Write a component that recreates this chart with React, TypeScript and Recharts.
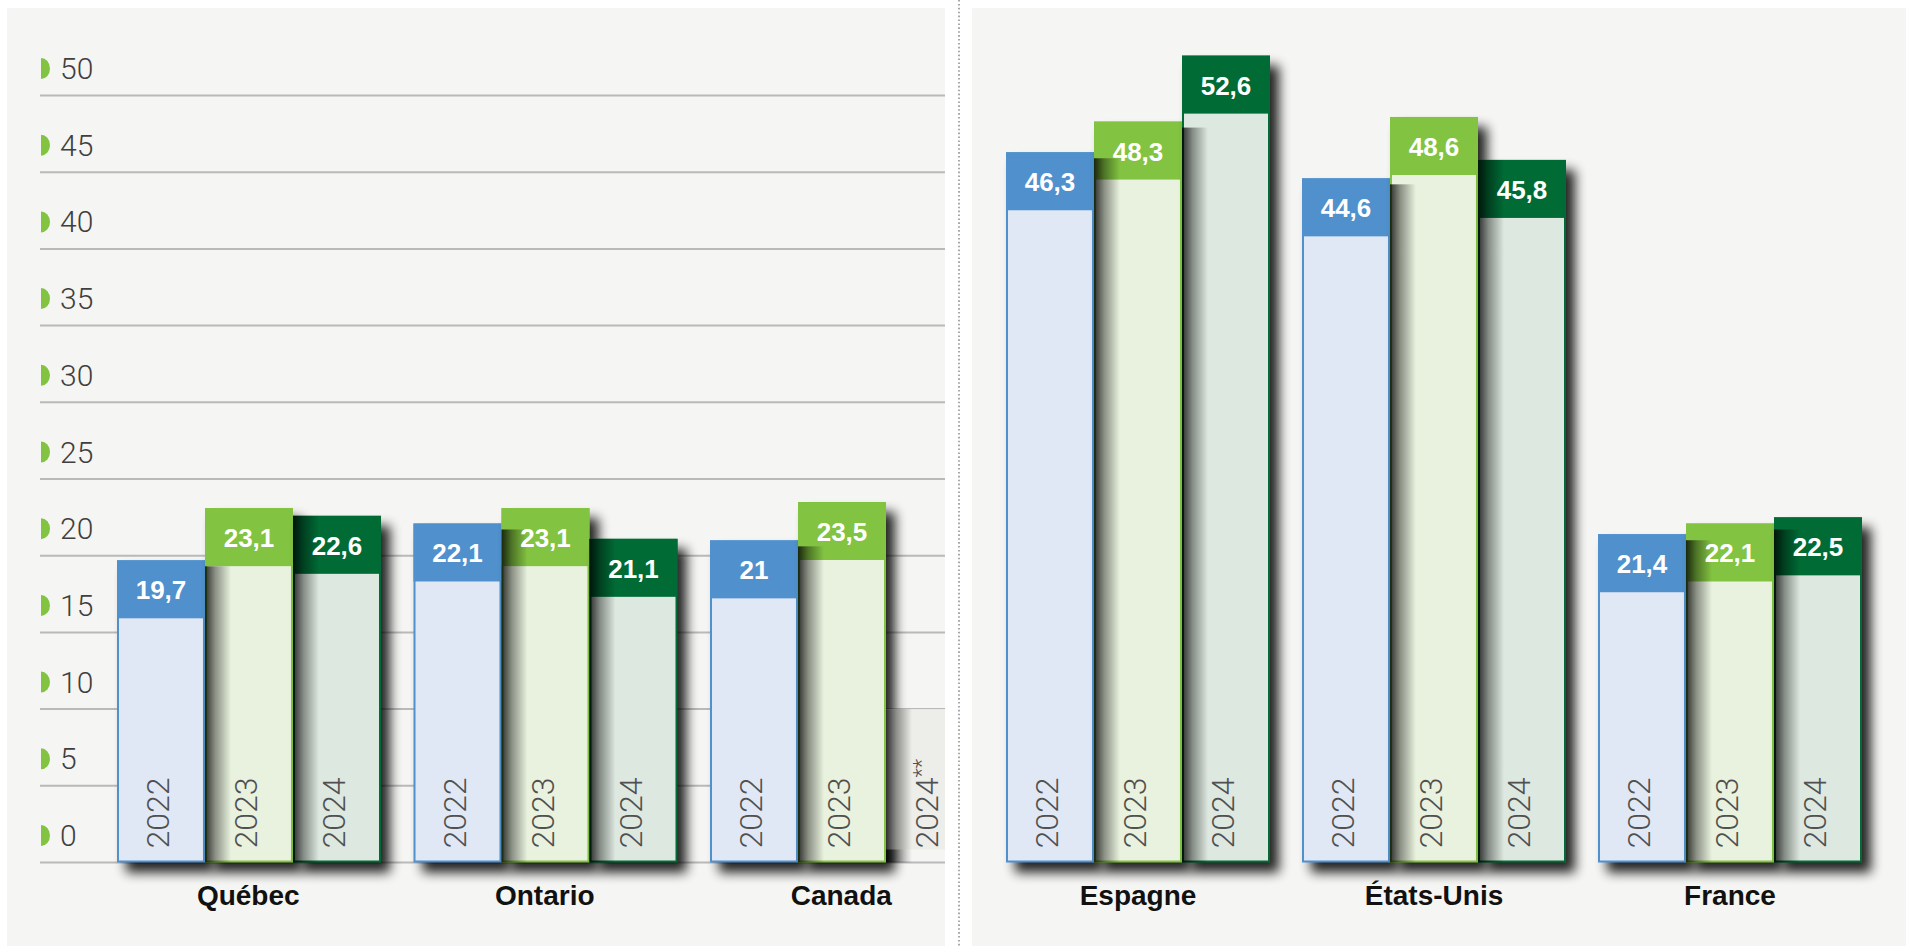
import React from 'react';
import { BarChart, Bar, XAxis, YAxis, CartesianGrid } from 'recharts';

// Catégories et valeurs
const CANADA_REGIONS = ['Québec', 'Ontario', 'Canada'];
const INTL_REGIONS = ['Espagne', 'États-Unis', 'France'];

const CANADA_2022 = [19.7, 22.1, 21];
const CANADA_2023 = [23.1, 23.1, 23.5];
const CANADA_2024 = [22.6, 21.1, null];
// 2024** : pas encore de donnée, une case grise tient la place
const CANADA_PENDING = [null, null, 10];

const INTL_2022 = [46.3, 44.6, 21.4];
const INTL_2023 = [48.3, 48.6, 22.1];
const INTL_2024 = [52.6, 45.8, 22.5];

const YEARS = ['2022', '2023', '2024'];
const Y_TICKS = [0, 5, 10, 15, 20, 25, 30, 35, 40, 45, 50];

const CAP = ['#4F90CD', '#82C341', '#006B35'];
const BODY = ['#E1E8F5', '#E9F2DE', '#DDE8E0'];
const PANEL_BG = '#F5F5F3';
const GRID = '#B9B9B9';

const buildRows = (names, a, b, c, pending?) =>
  names.map((name, i) => ({
    name,
    y2022: a[i],
    y2023: b[i],
    y2024: c[i],
    pending: pending ? pending[i] : null,
  }));

const canadaRows = buildRows(CANADA_REGIONS, CANADA_2022, CANADA_2023, CANADA_2024, CANADA_PENDING);
const intlRows = buildRows(INTL_REGIONS, INTL_2022, INTL_2023, INTL_2024);

const seriesValue = (row, s) => {
  if (s === 0) return row.y2022;
  if (s === 1) return row.y2023;
  return row.y2024 ?? row.pending;
};

const CAP_H = 58;

const makeShape = (s: number) => (props: any) => {
  const { x, y, width: w, height: h, payload } = props;
  const value = seriesValue(payload, s);
  if (value == null || !h) return <g />;
  const isPending = s === 2 && payload.y2024 == null;
  const base = y + h;
  const ppu = h / value;
  const cx = x + w / 2;

  // ombre portée par la barre précédente du groupe
  let shadeTop = null;
  if (s > 0) {
    const pv = seriesValue(payload, s - 1);
    if (pv != null) shadeTop = Math.max(y, base - pv * ppu + 6);
  }
  const shade =
    shadeTop != null ? (
      <rect x={x} y={shadeTop} width={26} height={base - shadeTop} fill="url(#leftShade)" />
    ) : null;

  const yearLabel = (
    <text
      transform={`translate(${cx + 8}, ${base - 14}) rotate(-90)`}
      fontFamily="Roboto, 'Liberation Sans', sans-serif"
      fontWeight={300}
      fontSize={32}
      fill="#505050"
    >
      {YEARS[s]}
      {isPending && (
        <tspan fontSize={22} dy={-9}>
          **
        </tspan>
      )}
    </text>
  );

  if (isPending) {
    return (
      <g>
        <rect x={x} y={y} width={w} height={h - 13} fill="#EDEDE9" />
        {shade}
        {yearLabel}
      </g>
    );
  }

  return (
    <g>
      <rect x={x + 9} y={y + 10} width={w} height={h} fill="#000" opacity={0.85} filter="url(#barShadow)" />
      <rect x={x + 1} y={y + 1} width={w - 2} height={h - 2} fill={BODY[s]} stroke={CAP[s]} strokeWidth={2} />
      <rect x={x} y={y} width={w} height={CAP_H} fill={CAP[s]} />
      {shade}
      <text
        x={cx}
        y={y + CAP_H / 2 + 1}
        textAnchor="middle"
        dominantBaseline="central"
        fontFamily="'Liberation Sans', Arial, sans-serif"
        fontWeight={700}
        fontSize={26}
        fill="#fff"
      >
        {String(value).replace('.', ',')}
      </text>
      {yearLabel}
    </g>
  );
};

const YTick = (props: any) => {
  const { y, payload } = props;
  const ty = y - 27;
  return (
    <g>
      <path d={`M 34 ${ty - 10.5} A 9 10.5 0 0 1 34 ${ty + 10.5} Z`} fill="#82C341" />
      <text
        x={53}
        y={ty}
        dominantBaseline="central"
        fontFamily="Roboto, 'Liberation Sans', sans-serif"
        fontWeight={300}
        fontSize={30}
        fill="#3F3F3F"
      >
        {payload.value}
      </text>
    </g>
  );
};

const XTick = (props: any) => {
  const { x, y, payload } = props;
  return (
    <text
      x={x}
      y={y + 33}
      textAnchor="middle"
      dominantBaseline="central"
      fontFamily="'Liberation Sans', Arial, sans-serif"
      fontWeight={700}
      fontSize={28}
      fill="#111"
    >
      {payload.value}
    </text>
  );
};

const renderBars = () =>
  YEARS.map((yr, s) => (
    <Bar
      key={yr}
      dataKey={(row) => seriesValue(row, s)}
      name={yr}
      shape={makeShape(s)}
      isAnimationActive={false}
    />
  ));

const PANEL_H = 938;

export default function App() {
  return (
    <div
      style={{
        position: 'absolute',
        left: 0,
        top: 0,
        width: 1906,
        height: 947,
        background: '#fff',
        overflow: 'hidden',
      }}
    >
      <svg width={0} height={0} style={{ position: 'absolute' }}>
        <defs>
          <filter id="barShadow" x="-30%" y="-30%" width="160%" height="160%">
            <feGaussianBlur stdDeviation={6} />
          </filter>
          <linearGradient id="leftShade" x1="0" y1="0" x2="1" y2="0">
            <stop offset="0" stopColor="#000" stopOpacity={0.8} />
            <stop offset="0.4" stopColor="#000" stopOpacity={0.4} />
            <stop offset="1" stopColor="#000" stopOpacity={0} />
          </linearGradient>
        </defs>
      </svg>

      {/* Canada */}
      <div
        style={{
          position: 'absolute',
          left: 7,
          top: 8,
          width: 938,
          height: PANEL_H,
          background: PANEL_BG,
          overflow: 'hidden',
        }}
      >
        <BarChart
          width={1000}
          height={PANEL_H}
          data={canadaRows}
          margin={{ top: 10.8, right: 17.5, bottom: 0, left: 32 }}
          barCategoryGap={17}
          barGap={0}
        >
          <CartesianGrid vertical={false} stroke={GRID} strokeWidth={2} syncWithTicks />
          <XAxis
            dataKey="name"
            interval={0}
            padding={{ left: 60, right: 0 }}
            height={83.5}
            tickLine={false}
            axisLine={false}
            tickSize={0}
            tickMargin={0}
            tick={<XTick />}
          />
          <YAxis
            domain={[0, 55]}
            ticks={Y_TICKS}
            interval={0}
            width={1}
            axisLine={false}
            tickLine={false}
            tick={<YTick />}
          />
          {renderBars()}
        </BarChart>
      </div>

      <svg width={4} height={947} style={{ position: 'absolute', left: 957, top: 0 }}>
        <line x1={2} y1={0} x2={2} y2={947} stroke="#A8A8A8" strokeWidth={2} strokeDasharray="1.6 2.3" />
      </svg>

      {/* International */}
      <div
        style={{
          position: 'absolute',
          left: 972,
          top: 8,
          width: 934,
          height: PANEL_H,
          background: PANEL_BG,
          overflow: 'hidden',
        }}
      >
        <BarChart
          width={934}
          height={PANEL_H}
          data={intlRows}
          margin={{ top: 10.8, right: 28, bottom: 0, left: 0 }}
          barCategoryGap={16}
          barGap={0}
        >
          <CartesianGrid
            vertical={false}
            syncWithTicks
            horizontal={(p: any) => (
              <line key={p.key} x1={p.x1} y1={p.y1} x2={p.x2 - 35} y2={p.y2} stroke={GRID} strokeWidth={2} />
            )}
          />
          <XAxis
            dataKey="name"
            interval={0}
            padding={{ left: 18, right: 0 }}
            height={83.5}
            tickLine={false}
            axisLine={false}
            tickSize={0}
            tickMargin={0}
            tick={<XTick />}
          />
          <YAxis
            domain={[0, 55]}
            ticks={Y_TICKS}
            interval={0}
            width={0}
            axisLine={false}
            tickLine={false}
            tick={false}
          />
          {renderBars()}
        </BarChart>
      </div>
    </div>
  );
}
